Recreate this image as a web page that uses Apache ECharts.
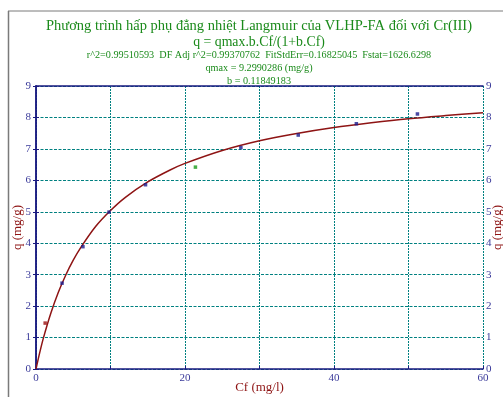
<!DOCTYPE html>
<html>
<head>
<meta charset="utf-8">
<script src="https://cdn.jsdelivr.net/npm/echarts@6/dist/echarts.min.js"></script>
<style>
  html, body { margin: 0; padding: 0; background: #ffffff; }
  #chart { width: 503px; height: 397px; }
</style>
</head>
<body>
<div id="chart"></div>
<script>
// Measured equilibrium points: Cf (mg/l) and q (mg/g)
const cfValues = [1.23, 3.5, 6.3, 9.8, 14.7, 21.4, 27.5, 35.2, 43.0, 51.2];
const qValues  = [1.46, 2.73, 3.89, 4.99, 5.86, 6.42, 7.04, 7.44, 7.80, 8.11];
// Marker colour of each point
const pointColors = ['#9b1010', '#1c1c8c', '#1c1c8c', '#1c1c8c', '#1c1c8c',
                     '#1a9a1a', '#1c1c8c', '#1c1c8c', '#1c1c8c', '#1c1c8c'];

// Langmuir fitted curve, read along Cf
const curveCf = [0, 0.5, 1, 2, 3, 4, 5, 6, 8, 10, 12, 15, 18, 20, 25, 30, 35, 40, 45, 50, 55, 60];
const curveQ  = [0, 0.52, 0.99, 1.78, 2.44, 2.99, 3.46, 3.86, 4.53, 5.04, 5.46, 5.95,
                 6.33, 6.54, 6.95, 7.26, 7.49, 7.68, 7.83, 7.96, 8.06, 8.15];

// Axis ticks
const xTickLabels = [0, 20, 40, 60];
const yTickLabels = [0, 1, 2, 3, 4, 5, 6, 7, 8, 9];

// Header lines
const titleLines = [
  'Phương trình hấp phụ đẳng nhiệt Langmuir của VLHP-FA đối với Cr(III)',
  'q = qmax.b.Cf/(1+b.Cf)',
  'r^2=0.99510593  DF Adj r^2=0.99370762  FitStdErr=0.16825045  Fstat=1626.6298',
  'qmax = 9.2990286 (mg/g)',
  'b = 0.11849183'
];

const SERIF = '"Liberation Serif", "DejaVu Serif", serif';
const GREEN = '#1a8a1a';
const NAVY = '#1a1a80';
const LABEL = '#3a3a9a';
const DARKRED = '#8e1414';
const GRID = '#008080';

const chart = echarts.init(document.getElementById('chart'), null, { renderer: 'canvas' });

const titleSizes = [14.5, 13.8, 10.2, 10.2, 10.2];
const titleTops = [14, 30, 45, 58, 71];

const points = cfValues.map((c, i) => ({
  value: [c, qValues[i]],
  itemStyle: { color: pointColors[i] }
}));

const yAxisBase = {
  type: 'value', min: 0, max: 9, interval: 1,
  name: 'q (mg/g)', nameLocation: 'middle', nameRotate: 90, nameMoveOverlap: false,
  nameTextStyle: { color: DARKRED, fontFamily: SERIF, fontSize: 13 },
  axisLine: { show: true, lineStyle: { color: NAVY, width: 1.5 } },
  axisTick: { show: true, inside: false, length: 3, lineStyle: { color: NAVY } },
  axisLabel: {
    color: LABEL, fontFamily: SERIF, fontSize: 11,
    formatter: v => (yTickLabels.includes(v) ? String(v) : '')
  }
};

chart.setOption({
  backgroundColor: '#ffffff',
  animation: false,
  title: titleLines.map((t, i) => ({
    text: t,
    left: 254, top: titleTops[i], textAlign: 'center',
    textStyle: { color: GREEN, fontFamily: SERIF, fontSize: titleSizes[i], fontWeight: 'normal' }
  })),
  grid: { left: 36, right: 20, top: 86, bottom: 28, containLabel: false, outerBoundsMode: 'none' },
  xAxis: [
    {
      type: 'value', min: 0, max: 60, interval: 10, position: 'bottom',
      name: 'Cf (mg/l)', nameLocation: 'middle', nameGap: 12, nameMoveOverlap: false,
      nameTextStyle: { color: DARKRED, fontFamily: SERIF, fontSize: 13 },
      axisLine: { show: true, onZero: false, lineStyle: { color: NAVY, width: 1.5 } },
      axisTick: { show: true, inside: true, length: 3, lineStyle: { color: NAVY } },
      axisLabel: {
        color: LABEL, fontFamily: SERIF, fontSize: 11, margin: 4,
        formatter: v => (xTickLabels.includes(v) ? String(v) : '')
      },
      splitLine: { show: true, lineStyle: { color: GRID, width: 1, type: [2, 1] } }
    },
    {
      type: 'value', min: 0, max: 60, interval: 10, position: 'top',
      axisLine: { show: true, onZero: false, lineStyle: { color: NAVY, width: 1.5 } },
      axisTick: { show: false }, axisLabel: { show: false }, splitLine: { show: false }
    }
  ],
  yAxis: [
    Object.assign({}, yAxisBase, {
      position: 'left', nameGap: 12,
      axisLabel: Object.assign({}, yAxisBase.axisLabel, { margin: 5 }),
      splitLine: { show: true, lineStyle: { color: GRID, width: 1, type: [3, 1.5] } }
    }),
    Object.assign({}, yAxisBase, {
      position: 'right', nameGap: 8,
      axisLabel: Object.assign({}, yAxisBase.axisLabel, { margin: 3 }),
      splitLine: { show: false }
    })
  ],
  series: [
    {
      type: 'line', name: 'Langmuir fit',
      data: curveCf.map((c, i) => [c, curveQ[i]]),
      smooth: 0.3, showSymbol: false, symbol: 'none',
      lineStyle: { color: DARKRED, width: 1.5 },
      z: 3
    },
    {
      type: 'scatter', name: 'q',
      data: points, symbol: 'rect', symbolSize: 3.5,
      z: 4
    }
  ],
  graphic: [
    // Outer frame around the plot page
    { type: 'line', shape: { x1: 8.5, y1: 11, x2: 8.5, y2: 397 }, style: { stroke: '#7a7a7a', lineWidth: 1.5 } },
    { type: 'line', shape: { x1: 8, y1: 11, x2: 503, y2: 11 }, style: { stroke: '#7a7a7a', lineWidth: 1 } }
  ]
});
</script>
</body>
</html>
